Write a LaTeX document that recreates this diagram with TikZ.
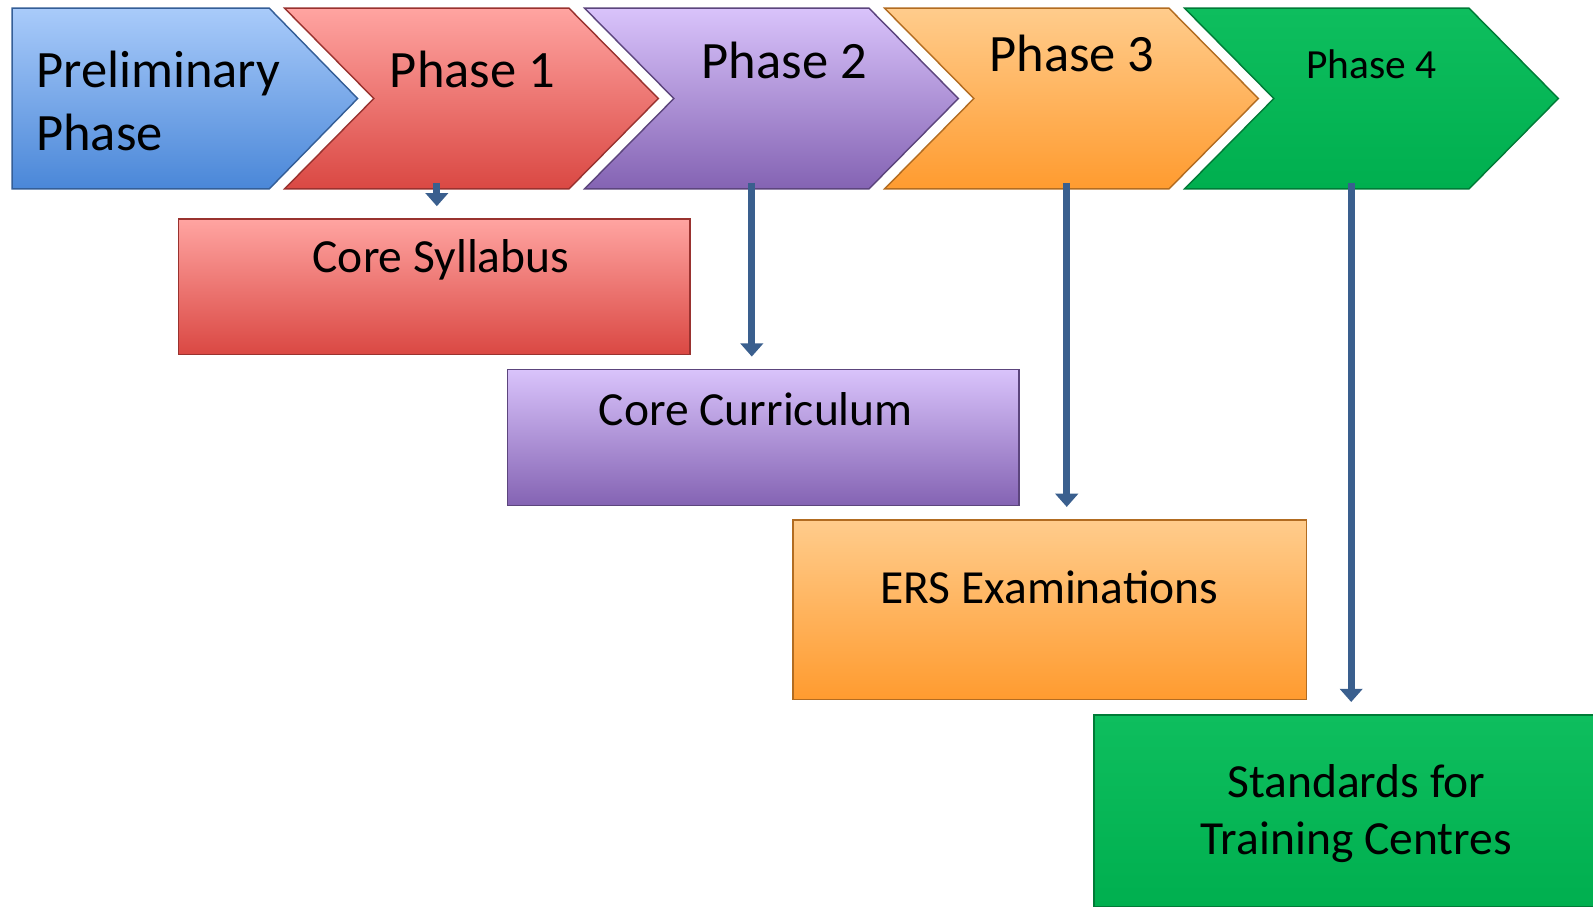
\documentclass[tikz,border=0pt]{standalone}
\usepackage{fontspec}
\setmainfont{Carlito}
\usetikzlibrary{arrows.meta, calc, positioning}
\definecolor{prelimtop}{HTML}{A9CBFA}
\definecolor{prelimbot}{HTML}{4A87D8}
\definecolor{redtop}{HTML}{FFA4A1}
\definecolor{redbot}{HTML}{DA4843}
\definecolor{purptop}{HTML}{D9C3FB}
\definecolor{purpbot}{HTML}{8463B3}
\definecolor{orangetop}{HTML}{FFCC8C}
\definecolor{orangebot}{HTML}{FF9B2F}
\definecolor{greentop}{HTML}{0EBE5E}
\definecolor{greenbot}{HTML}{00AF4F}
\definecolor{arrowblue}{HTML}{3A5F8E}
\tikzset{
  phasetext/.style = {font=\fontsize{14.7}{17.6}\selectfont, align=left, inner sep=0pt},
  boxtext/.style = {font=\fontsize{13.3}{15.8}\selectfont, align=center, inner sep=0pt},
  chevron/.style = {draw=#1bot!70!black, line width=0.4pt, top color=#1top, bottom color=#1bot},
  outbox/.style = {rectangle, draw=#1bot!70!black, line width=0.4pt, top color=#1top, bottom color=#1bot, inner sep=0pt, anchor=north west},
  flow/.style = {draw=arrowblue, line width=0.07cm, shorten >=0.12cm, -{Triangle[width=0.22cm, length=0.13cm]}}
}
\begin{document}
\begin{tikzpicture}[x=0.01cm, y=-0.01cm]
    \useasboundingbox (0,0) rectangle (1568,892);
    \path[chevron=prelim] (12,8) -- (265,8) -- (352,97) -- (265,186) -- (12,186) -- cycle;
    \foreach \i/\c in {1/red, 2/purp, 3/orange, 4/green}{
    	\pgfmathsetmacro{\xl}{280+295.3*(\i-1)}
    	\path[chevron=\c] (\xl,8) -- ++(280,0) -- ++(88,89) -- ++(-88,89) -- ++(-280,0) -- ++(88,-89) -- cycle;
    }
    \node[phasetext, anchor=west] (p0) at (35,99) {Preliminary\\Phase};
    \node[phasetext] (p1) at (465,68) {Phase 1};
    \node[phasetext] (p2) at (772,60) {Phase 2};
    \node[phasetext] (p3) at (1055,53) {Phase 3};
    \node[phasetext, font=\fontsize{11.6}{14}\selectfont] (p4) at (1350,63) {Phase 4};
    \node[outbox=red, minimum width=5.03cm, minimum height=1.33cm] (b1) at (175,215) {};
    \node[outbox=purp, minimum width=5.03cm, minimum height=1.34cm] (b2) at (499,363) {};
    \node[outbox=orange, minimum width=5.05cm, minimum height=1.77cm] (b3) at (780,511) {};
    \node[outbox=green, minimum width=4.92cm, minimum height=1.89cm] (b4) at (1076,703) {};
    \node[boxtext] (t1) at (434,256) {Core Syllabus};
    \node[boxtext] (t2) at (744,403) {Core Curriculum};
    \node[boxtext] (t3) at (1033,578) {ERS Examinations};
    \node[boxtext] (t4) at (1335,801) {Standards for\\Training Centres};
    \coordinate (a1) at (430,180);
    \coordinate (a2) at (740,180);
    \coordinate (a3) at (1050,180);
    \coordinate (a4) at (1330,180);
    \draw[flow] (a1) -- (a1 |- b1.north);
    \draw[flow] (a2) -- (a2 |- b2.north);
    \draw[flow] (a3) -- (a3 |- b3.north);
    \draw[flow] (a4) -- (a4 |- b4.north);
\end{tikzpicture}
\end{document}
